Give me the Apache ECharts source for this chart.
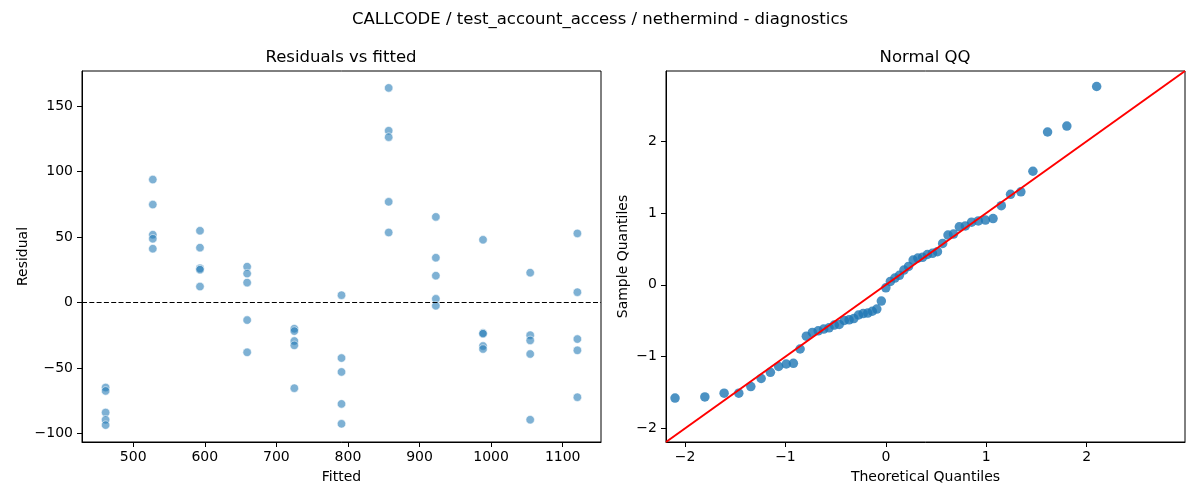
<!DOCTYPE html>
<html>
<head>
<meta charset="utf-8">
<script src="https://cdn.jsdelivr.net/npm/echarts@6/dist/echarts.min.js"></script>
<style>
  html, body { margin: 0; padding: 0; background: #fff; }
  #main { width: 1200px; height: 500px; }
</style>
</head>
<body>
<div id="main"></div>
<script>
// residuals vs fitted (5 runs per fitted level)
var fitted = [
  461.5, 461.5, 461.5, 461.5, 461.5,
  527.4, 527.4, 527.4, 527.4, 527.4,
  593.3, 593.3, 593.3, 593.3, 593.3,
  659.2, 659.2, 659.2, 659.2, 659.2,
  725.1, 725.1, 725.1, 725.1, 725.1,
  791.0, 791.0, 791.0, 791.0, 791.0,
  856.9, 856.9, 856.9, 856.9, 856.9,
  922.8, 922.8, 922.8, 922.8, 922.8,
  988.7, 988.7, 988.7, 988.7, 988.7,
  1054.6, 1054.6, 1054.6, 1054.6, 1054.6,
  1120.5, 1120.5, 1120.5, 1120.5, 1120.5
];
var residual = [
  -64.9, -67.5, -84.0, -89.5, -93.6,
  93.9, 74.8, 51.8, 48.7, 41.1,
  54.8, 41.9, 26.1, 25.1, 12.2,
  27.4, 22.1, 15.2, -13.4, -38.0,
  -20.0, -21.8, -29.4, -32.7, -65.4,
  5.6, -42.4, -53.0, -77.4, -92.6,
  163.9, 131.2, 126.3, 76.9, 53.5,
  65.4, 34.2, 20.5, 2.8, -2.5,
  47.9, -23.3, -23.8, -33.2, -35.5,
  22.8, -24.9, -28.9, -39.3, -89.5,
  52.8, 7.9, -27.9, -36.5, -72.3
];

// normal QQ
var theoQuantiles = [
  -2.100, -1.803, -1.611, -1.465, -1.345, -1.242, -1.150, -1.068, -0.992, -0.921,
  -0.854, -0.792, -0.732, -0.674, -0.619, -0.566, -0.514, -0.464, -0.414, -0.366,
  -0.319, -0.272, -0.226, -0.180, -0.135, -0.090, -0.045, 0.000, 0.045, 0.090,
  0.135, 0.180, 0.226, 0.272, 0.319, 0.366, 0.414, 0.464, 0.514, 0.566,
  0.619, 0.674, 0.732, 0.792, 0.854, 0.921, 0.992, 1.068, 1.150, 1.242,
  1.345, 1.465, 1.611, 1.803, 2.100
];
var sampleQuantiles = [
  -1.578, -1.562, -1.509, -1.509, -1.417, -1.305, -1.219, -1.138, -1.103, -1.094,
  -0.894, -0.715, -0.663, -0.641, -0.616, -0.599, -0.560, -0.551, -0.496, -0.487,
  -0.470, -0.420, -0.401, -0.393, -0.368, -0.337, -0.226, -0.042, 0.047, 0.094,
  0.133, 0.206, 0.256, 0.346, 0.373, 0.384, 0.423, 0.440, 0.462, 0.577,
  0.693, 0.707, 0.808, 0.821, 0.874, 0.890, 0.902, 0.924, 1.103, 1.261,
  1.297, 1.583, 2.130, 2.212, 2.764
];

var fittedTicks = [500, 600, 700, 800, 900, 1000, 1100];
var residualTicks = [-100, -50, 0, 50, 100, 150];
var qqTicks = [-2, -1, 0, 1, 2];
var qqLimits = [-2.19, 2.98];

var FONT = 'DejaVu Sans';

function minusSign(v) {
  return String(v).replace('-', '\u2212');
}

function makeAxis(gridIndex, min, max, ticks, name, nameGap, labelMargin) {
  return {
    type: 'value',
    gridIndex: gridIndex,
    min: min,
    max: max,
    name: name,
    nameLocation: 'middle',
    nameGap: nameGap,
    nameTextStyle: { fontFamily: FONT, fontSize: 14, color: '#000' },
    splitLine: { show: false },
    axisLine: { show: true, onZero: false, lineStyle: { color: '#000', width: 1 } },
    axisTick: { show: true, length: 5, lineStyle: { color: '#000', width: 1 }, customValues: ticks },
    axisLabel: {
      fontFamily: FONT, fontSize: 14, color: '#000', margin: labelMargin,
      customValues: ticks,
      formatter: minusSign
    }
  };
}

var scatterPts = fitted.map(function (f, i) { return [f, residual[i]]; });
var qqPts = theoQuantiles.map(function (t, i) { return [t, sampleQuantiles[i]]; });

var myChart = echarts.init(document.getElementById('main'));
var option = {
  backgroundColor: '#fff',
  animation: false,
  title: [
    {
      text: 'CALLCODE / test_account_access / nethermind - diagnostics',
      left: 595, top: 6, textAlign: 'center',
      textStyle: { fontFamily: FONT, fontSize: 16.5, fontWeight: 'normal', color: '#000' }
    },
    {
      text: 'Residuals vs fitted',
      left: 336, top: 44, textAlign: 'center',
      textStyle: { fontFamily: FONT, fontSize: 16.5, fontWeight: 'normal', color: '#000' }
    },
    {
      text: 'Normal QQ',
      left: 920, top: 44, textAlign: 'center',
      textStyle: { fontFamily: FONT, fontSize: 16.5, fontWeight: 'normal', color: '#000' }
    }
  ],
  grid: [
    { left: 82, top: 71, width: 519, height: 371, show: true, borderColor: '#000', borderWidth: 1, backgroundColor: 'transparent' },
    { left: 666, top: 71, width: 519, height: 371, show: true, borderColor: '#000', borderWidth: 1, backgroundColor: 'transparent' }
  ],
  xAxis: [
    makeAxis(0, 428.5, 1153.5, fittedTicks, 'Fitted', 28, 8),
    makeAxis(1, qqLimits[0], qqLimits[1], qqTicks, 'Theoretical Quantiles', 28, 8)
  ],
  yAxis: [
    makeAxis(0, -106.5, 176.8, residualTicks, 'Residual', 52, 9),
    makeAxis(1, qqLimits[0], qqLimits[1], qqTicks, 'Sample Quantiles', 36, 9)
  ],
  series: [
    {
      name: 'residuals',
      type: 'scatter',
      xAxisIndex: 0,
      yAxisIndex: 0,
      data: scatterPts,
      symbolSize: 8.5,
      itemStyle: { color: 'rgba(31, 119, 180, 0.72)', borderColor: '#fff', borderWidth: 0.7 },
      markLine: {
        silent: true,
        symbol: 'none',
        label: { show: false },
        lineStyle: { color: '#000', width: 1.2, type: [5, 2.3] },
        data: [{ yAxis: 0 }]
      }
    },
    {
      name: 'qq line',
      type: 'line',
      xAxisIndex: 1,
      yAxisIndex: 1,
      data: [[qqLimits[0], qqLimits[0]], [qqLimits[1], qqLimits[1]]],
      showSymbol: false,
      lineStyle: { color: '#ff0000', width: 2 },
      z: 3
    },
    {
      name: 'qq',
      type: 'scatter',
      xAxisIndex: 1,
      yAxisIndex: 1,
      data: qqPts,
      symbolSize: 9.5,
      itemStyle: { color: '#1f77b4' },
      z: 2
    }
  ]
};
myChart.setOption(option, true);
</script>
</body>
</html>
